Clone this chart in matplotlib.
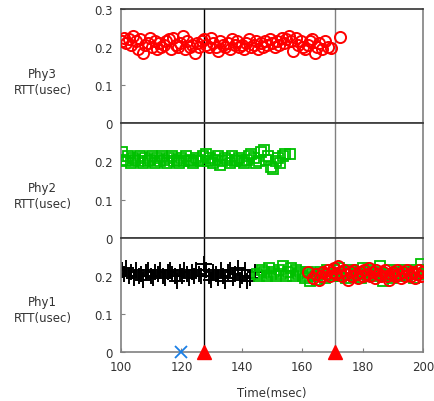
import matplotlib

matplotlib.use("Agg")

import matplotlib.pyplot as plt

# Phy3 (top): red circles
phy3_x = [
    100.3, 101.0, 101.8, 102.5, 103.3, 104.1, 104.9, 105.6, 106.4, 107.2,
    108.0, 108.8, 109.5, 110.3, 111.1, 111.9, 112.7, 113.4, 114.2, 115.0,
    115.8, 116.6, 117.3, 118.1, 118.9, 119.7, 120.5, 121.2, 122.0, 122.8,
    123.6, 124.4, 125.1, 125.9, 126.7, 127.5, 128.3, 129.0, 129.8, 130.6,
    131.4, 132.2, 132.9, 133.7, 134.5, 135.3, 136.1, 136.8, 137.6, 138.4,
    139.2, 140.0, 140.7, 141.5, 142.3, 143.1, 143.9, 144.6, 145.4, 146.2,
    147.0, 147.8, 148.5, 149.3, 150.1, 150.9, 151.7, 152.4, 153.2, 154.0,
    154.8, 155.6, 156.3, 157.1, 157.9, 158.7, 159.5, 160.2, 161.0, 161.8,
    162.6, 163.4, 164.1, 164.9, 165.7, 166.5, 167.6, 168.4, 169.5, 172.5,
]
phy3_y = [
    0.215, 0.225, 0.210, 0.220, 0.205, 0.230, 0.215, 0.195, 0.220, 0.185,
    0.205, 0.210, 0.225, 0.200, 0.215, 0.195, 0.210, 0.200, 0.205, 0.215,
    0.220, 0.195, 0.225, 0.205, 0.200, 0.210, 0.230, 0.195, 0.215, 0.200,
    0.205, 0.185, 0.210, 0.200, 0.215, 0.220, 0.205, 0.200, 0.225, 0.210,
    0.200, 0.190, 0.215, 0.205, 0.200, 0.210, 0.195, 0.220, 0.205, 0.215,
    0.200, 0.205, 0.195, 0.210, 0.220, 0.200, 0.205, 0.215, 0.195, 0.210,
    0.200, 0.215, 0.205, 0.220, 0.210, 0.200, 0.215, 0.205, 0.225, 0.210,
    0.220, 0.230, 0.215, 0.190, 0.225, 0.205, 0.215, 0.200, 0.195, 0.205,
    0.215, 0.220, 0.185, 0.200, 0.210, 0.195, 0.215, 0.200, 0.198, 0.226,
]

# Phy2 (middle): green squares
phy2_x = [
    100.2, 100.8, 101.6, 102.4, 103.2, 104.0, 104.8, 105.6, 106.4, 107.2,
    108.0, 108.8, 109.6, 110.4, 111.2, 112.0, 112.8, 113.6, 114.4, 115.2,
    116.0, 116.8, 117.6, 118.4, 119.2, 120.0, 120.8, 121.6, 122.4, 123.2,
    124.0, 124.8, 125.6, 126.4, 127.2, 128.0, 128.8, 129.6, 130.4, 131.2,
    132.0, 132.8, 133.6, 134.4, 135.2, 136.0, 136.8, 137.6, 138.4, 139.2,
    140.0, 140.8, 141.6, 142.4, 143.2, 144.0, 144.8, 145.6, 146.4, 147.2,
    148.0, 148.8, 149.6, 150.4, 151.2, 152.0, 152.8, 153.6, 154.4, 156.0,
]
phy2_y = [
    0.225, 0.205, 0.200, 0.215, 0.195, 0.210, 0.205, 0.200, 0.215, 0.195,
    0.210, 0.200, 0.205, 0.215, 0.195, 0.210, 0.200, 0.215, 0.205, 0.195,
    0.210, 0.215, 0.200, 0.205, 0.195, 0.210, 0.200, 0.215, 0.205, 0.200,
    0.195, 0.210, 0.205, 0.200, 0.215, 0.220, 0.200, 0.210, 0.195, 0.205,
    0.215, 0.190, 0.200, 0.210, 0.205, 0.195, 0.215, 0.200, 0.205, 0.210,
    0.200, 0.195, 0.205, 0.215, 0.220, 0.210, 0.195, 0.200, 0.225, 0.230,
    0.205, 0.215, 0.185, 0.180, 0.200, 0.210, 0.195, 0.215, 0.220, 0.220,
]

# Phy1 (bottom): black plus, then green squares, then red circles
phy1_black_x = [
    100.3, 101.0, 101.8, 102.6, 103.4, 104.2, 105.0, 105.8, 106.6, 107.4,
    108.2, 109.0, 109.8, 110.6, 111.4, 112.2, 113.0, 113.8, 114.6, 115.4,
    116.2, 117.0, 117.8, 118.6, 119.4, 120.2, 121.0, 121.8, 122.6, 123.4,
    124.2, 125.0, 125.8, 126.6, 127.4, 128.2, 129.0, 129.8, 130.6, 131.4,
    132.2, 133.0, 133.8, 134.6, 135.4, 136.2, 137.0, 137.8, 138.6, 139.4,
    140.2, 141.0, 141.8, 142.6, 144.5,
]
phy1_black_y = [
    0.215, 0.205, 0.220, 0.200, 0.210, 0.195, 0.215, 0.200, 0.205, 0.190,
    0.210, 0.215, 0.200, 0.195, 0.210, 0.205, 0.215, 0.200, 0.195, 0.210,
    0.215, 0.205, 0.200, 0.185, 0.210, 0.200, 0.215, 0.205, 0.195, 0.210,
    0.200, 0.215, 0.205, 0.200, 0.230, 0.215, 0.200, 0.190, 0.210, 0.205,
    0.195, 0.215, 0.200, 0.185, 0.210, 0.215, 0.195, 0.205, 0.220, 0.190,
    0.200, 0.215, 0.185, 0.195, 0.210,
]
phy1_green_x = [
    145.0, 145.8, 146.6, 147.4, 148.2, 149.0, 149.8, 150.6, 151.4, 152.2,
    153.0, 153.8, 154.6, 155.4, 156.2, 157.0, 157.8, 158.6, 159.4, 160.2,
    161.0, 161.8, 162.6, 163.4, 164.2, 165.0, 165.8, 166.6, 167.4, 168.2,
    169.0, 169.8, 170.6, 171.4, 172.2, 173.0, 173.8, 174.6, 175.4, 176.2,
    177.0, 177.8, 178.6, 179.4, 180.2, 181.0, 181.8, 182.6, 183.4, 184.2,
    185.0, 185.8, 186.6, 187.4, 188.2, 189.0, 189.8, 190.6, 191.4, 192.2,
    193.0, 193.8, 194.6, 195.4, 196.2, 197.0, 197.8, 198.6, 199.4, 199.8,
]
phy1_green_y = [
    0.205, 0.200, 0.215, 0.210, 0.200, 0.220, 0.205, 0.210, 0.200, 0.215,
    0.205, 0.225, 0.200, 0.210, 0.220, 0.200, 0.215, 0.205, 0.210, 0.200,
    0.195, 0.210, 0.185, 0.205, 0.200, 0.190, 0.210, 0.205, 0.195, 0.215,
    0.205, 0.200, 0.215, 0.205, 0.220, 0.200, 0.210, 0.195, 0.205, 0.215,
    0.200, 0.210, 0.205, 0.195, 0.220, 0.210, 0.200, 0.215, 0.205, 0.200,
    0.210, 0.225, 0.185, 0.205, 0.200, 0.215, 0.195, 0.205, 0.210, 0.200,
    0.205, 0.215, 0.200, 0.210, 0.205, 0.195, 0.215, 0.205, 0.230, 0.215,
]
phy1_red_x = [
    162.0, 163.5, 164.6, 165.5, 166.3, 167.0, 167.8, 168.5, 169.2, 170.0,
    170.6, 171.3, 172.0, 172.6, 173.3, 174.0, 174.6, 175.3, 176.0, 176.6,
    177.3, 178.0, 178.6, 179.3, 180.0, 180.6, 181.3, 182.0, 182.6, 183.3,
    184.0, 184.6, 185.3, 186.0, 186.6, 187.3, 188.0, 188.6, 189.3, 190.0,
    190.6, 191.3, 192.0, 192.6, 193.3, 194.0, 194.6, 195.3, 196.0, 196.6,
    197.3, 198.0, 198.6, 199.3, 199.8,
]
phy1_red_y = [
    0.210, 0.195, 0.205, 0.190, 0.200, 0.210, 0.205, 0.215, 0.200, 0.210,
    0.220, 0.205, 0.225, 0.210, 0.200, 0.215, 0.205, 0.190, 0.210, 0.200,
    0.215, 0.205, 0.195, 0.210, 0.200, 0.215, 0.205, 0.220, 0.200, 0.210,
    0.195, 0.215, 0.205, 0.200, 0.210, 0.215, 0.200, 0.190, 0.205, 0.210,
    0.200, 0.215, 0.205, 0.195, 0.210, 0.200, 0.215, 0.205, 0.200, 0.210,
    0.195, 0.205, 0.215, 0.200, 0.210,
]

# events on the time axis
event_times = [127.5, 171.0]
event_line_colors = ["black", "#808080"]
cross_time = [120.0]

panel_names = ["Phy3", "Phy2", "Phy1"]
x_ticks = [100, 120, 140, 160, 180, 200]

RED = "#ff0000"
GREEN = "#00c000"
SPINE = "#808080"

plt.rcParams["font.family"] = "DejaVu Sans"
plt.rcParams["font.size"] = 8.5

fig = plt.figure(figsize=(4.35, 4.02), dpi=100)
left, right = 121 / 435, 423 / 435
top, bottom = 1 - 10 / 402, 1 - 353 / 402
panel_h = (top - bottom) / 3

axes = []
for i in range(3):
    ax = fig.add_axes([left, top - (i + 1) * panel_h, right - left, panel_h])
    axes.append(ax)

circle_style = dict(marker="o", ms=8, mfc="none", mec=RED, mew=1.4, ls="none", zorder=4)
square_style = dict(marker="s", ms=7.5, mfc="none", mec=GREEN, mew=1.3, ls="none", zorder=3)
plus_style = dict(marker="+", ms=12, mec="black", mew=1.4, ls="none", zorder=2)

axes[0].plot(phy3_x, phy3_y, **circle_style)
axes[1].plot(phy2_x, phy2_y, **square_style)
axes[2].plot(phy1_black_x, phy1_black_y, **plus_style)
axes[2].plot(phy1_green_x, phy1_green_y, **square_style)
axes[2].plot(phy1_red_x, phy1_red_y, **circle_style)

for i, ax in enumerate(axes):
    ax.set_xlim(100, 200)
    ax.set_ylim(0, 0.3)
    for t, c in zip(event_times, event_line_colors):
        ax.axvline(t, color=c, lw=1.0, zorder=1)
    for s in ax.spines.values():
        s.set_color(SPINE)
        s.set_linewidth(1.2)
    ax.spines["top"].set_color("#333333")
    ticks = [0, 0.1, 0.2, 0.3] if i == 0 else [0, 0.1, 0.2]
    ax.set_yticks(ticks)
    ax.set_yticklabels(["0" if t == 0 else f"{t:.1f}" for t in ticks])
    ax.tick_params(axis="y", direction="in", length=3, color=SPINE, pad=6,
                   labelcolor="#333333")
    ax.set_xticks(x_ticks)
    ax.tick_params(axis="x", direction="in", length=3, color=SPINE, pad=6,
                   labelcolor="#333333")
    if i < 2:
        ax.tick_params(axis="x", labelbottom=False, length=0)
    ax.set_ylabel(f"{panel_names[i]}\nRTT(usec)", rotation=0, ha="center",
                  va="center", color="#333333", linespacing=1.3)
    ax.yaxis.set_label_coords(-0.26, 0.37)

bottom_ax = axes[2]
bottom_ax.plot(event_times, [0, 0], marker="^", ms=10, color=RED, ls="none",
               clip_on=False, zorder=6)
bottom_ax.plot(cross_time, [0], marker="x", ms=8, mew=1.3, color="#1a7fe6",
               ls="none", clip_on=False, zorder=6)
bottom_ax.set_xlabel("Time(msec)", color="#333333", labelpad=9)

fig.savefig("out.png", dpi=100)
